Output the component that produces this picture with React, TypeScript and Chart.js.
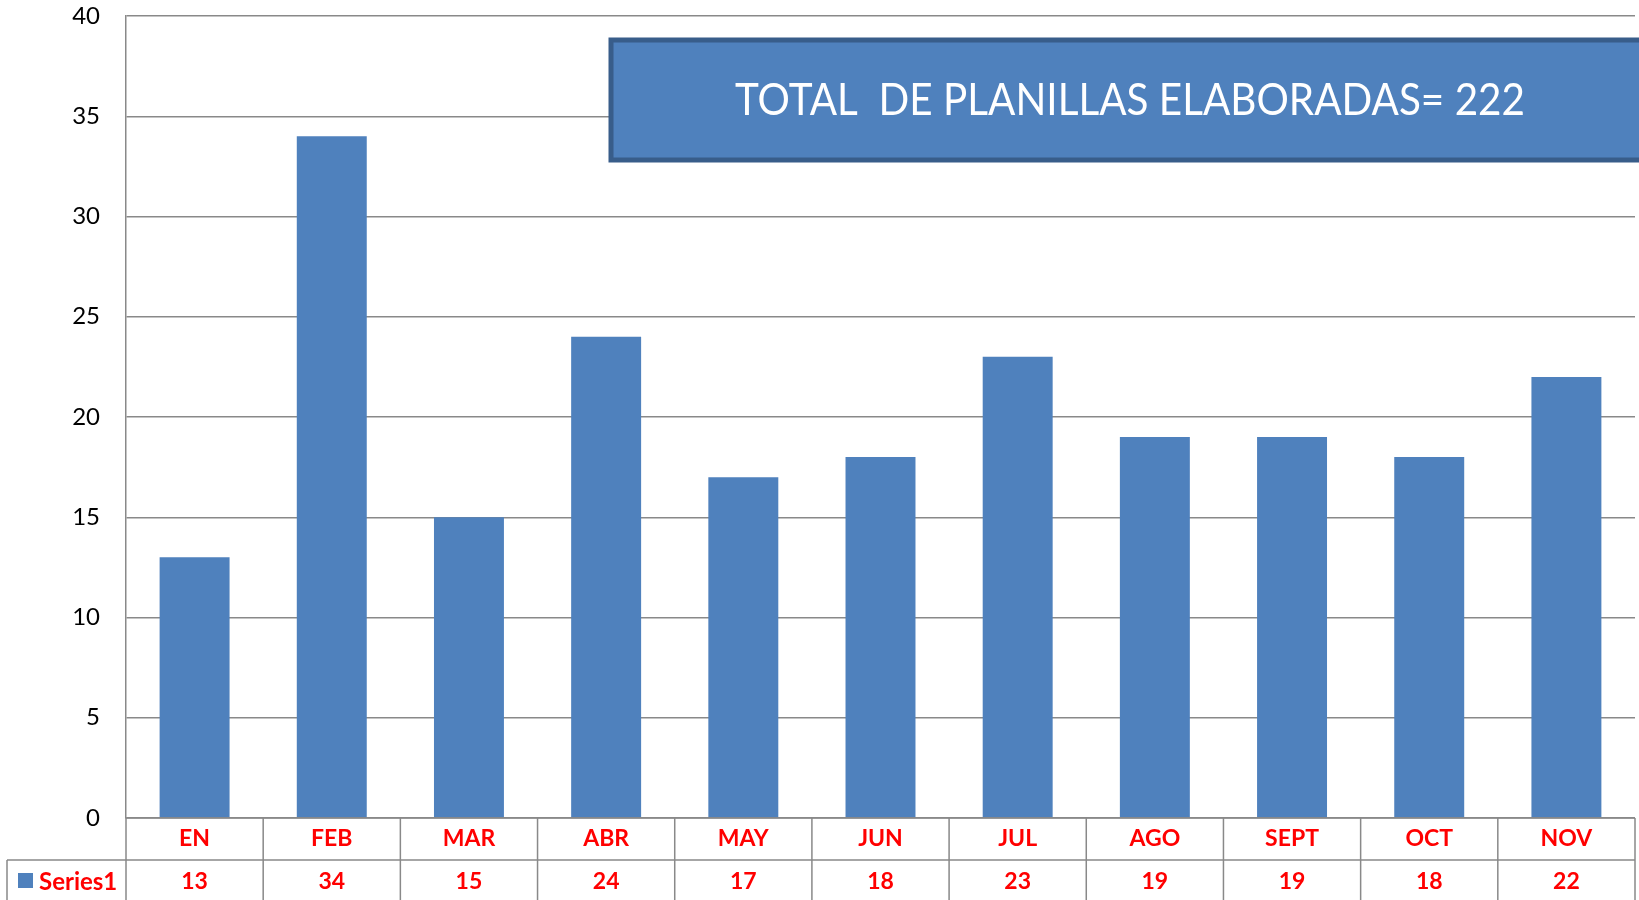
import React, { useEffect, useRef } from "react";
import { Chart, registerables } from "chart.js";

Chart.register(...registerables);

const categories = ["EN", "FEB", "MAR", "ABR", "MAY", "JUN", "JUL", "AGO", "SEPT", "OCT", "NOV"];
const series1 = [13, 34, 15, 24, 17, 18, 23, 19, 19, 18, 22];
const seriesName = "Series1";
const titleText = "TOTAL  DE PLANILLAS ELABORADAS= 222";
const yMin = 0;
const yMax = 40;
const yStep = 5;

const BAR = "#4f81bd";
const GRID = "#898989";
const RED = "#ff0000";
const FONT = "Lato, 'Open Sans', sans-serif";

const tablePlugin = {
  id: "dataTable",
  afterDraw(chart: any) {
    const ctx = chart.ctx;
    const x = chart.scales.x;
    const area = chart.chartArea;
    const n = categories.length;
    const cw = (area.right - area.left) / n;
    const row1Top = area.bottom;
    const row2Top = area.bottom + 42;
    const bottom = chart.height + 5;
    ctx.save();
    ctx.strokeStyle = GRID;
    ctx.lineWidth = 1.5;
    ctx.beginPath();
    ctx.moveTo(area.left, row1Top);
    ctx.lineTo(area.right, row1Top);
    ctx.moveTo(7, row2Top);
    ctx.lineTo(area.right, row2Top);
    for (let i = 0; i <= n; i++) {
      const px = area.left + i * cw;
      ctx.moveTo(px, row1Top);
      ctx.lineTo(px, bottom);
    }
    ctx.moveTo(7, row2Top);
    ctx.lineTo(7, bottom);
    ctx.stroke();

    ctx.fillStyle = RED;
    ctx.font = `bold 23px ${FONT}`;
    ctx.textAlign = "center";
    ctx.textBaseline = "middle";
    for (let i = 0; i < n; i++) {
      const cx = x.getPixelForValue(i);
      ctx.fillText(categories[i], cx, row1Top + 21);
      ctx.fillText(String(series1[i]), cx, row2Top + 22);
    }
    ctx.fillStyle = BAR;
    ctx.fillRect(18, row2Top + 13, 15, 15);
    ctx.fillStyle = RED;
    ctx.font = `bold 24px ${FONT}`;
    ctx.textAlign = "left";
    ctx.fillText(seriesName, 39, row2Top + 22);

    const bx = 611, by = 40, bw = 1045, bh = 120;
    ctx.fillStyle = BAR;
    ctx.fillRect(bx, by, bw, bh);
    ctx.strokeStyle = "#385d8a";
    ctx.lineWidth = 5;
    ctx.strokeRect(bx, by, bw, bh);
    ctx.fillStyle = "#ffffff";
    ctx.font = `400 44px ${FONT}`;
    ctx.textAlign = "center";
    ctx.textBaseline = "middle";
    const targetW = 790;
    const w = ctx.measureText(titleText).width;
    const sx = targetW / w;
    ctx.translate(1130, 101);
    ctx.scale(sx, 1);
    ctx.fillText(titleText, 0, 0);
    ctx.restore();
  },
};

export default function App() {
  const ref = useRef<HTMLCanvasElement>(null);
  useEffect(() => {
    document.body.style.margin = "0";
    const chart = new Chart(ref.current as HTMLCanvasElement, {
      type: "bar",
      data: {
        labels: categories,
        datasets: [
          {
            label: seriesName,
            data: series1,
            backgroundColor: BAR,
            barPercentage: 0.51,
            categoryPercentage: 1.0,
          },
        ],
      },
      options: {
        responsive: false,
        animation: false,
        layout: { padding: { top: 16, bottom: 82, right: 4, left: 0 } },
        plugins: { legend: { display: false }, tooltip: { enabled: false } },
        scales: {
          x: { display: false },
          y: {
            min: yMin,
            max: yMax,
            ticks: {
              stepSize: yStep,
              color: "#000000",
              padding: 26,
              font: { family: FONT, size: 24 },
            },
            grid: { color: GRID, lineWidth: 1.5, drawTicks: false },
            border: { color: GRID, width: 1.5 },
            afterFit: (s: any) => {
              s.width = 126;
              s.paddingTop = 0;
              s.paddingBottom = 0;
            },
          },
        },
      },
      plugins: [tablePlugin],
    });
    return () => chart.destroy();
  }, []);
  return (
    <div style={{ position: "absolute", left: 0, top: 0, width: 1639, height: 900 }}>
      <canvas ref={ref} width={1639} height={900} style={{ width: 1639, height: 900 }} />
    </div>
  );
}
